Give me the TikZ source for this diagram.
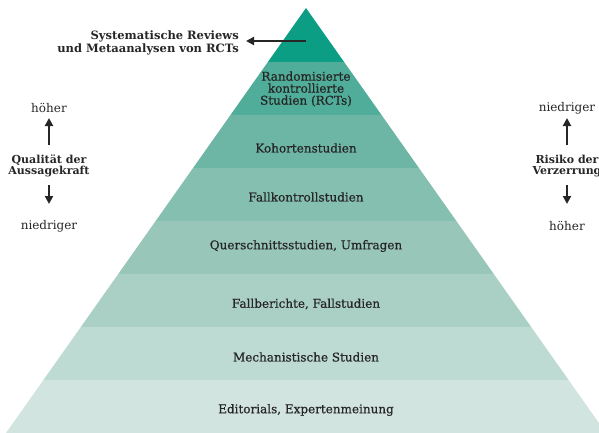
\documentclass[tikz,border=0pt]{standalone}
\usepackage{fontspec}
\setmainfont{DejaVu Serif}
\newfontfamily\medfont[FakeBold=0.6]{DejaVu Serif}
\usetikzlibrary{arrows.meta}
\definecolor{band1}{HTML}{0B9E85}
\definecolor{band2}{HTML}{50AD99}
\definecolor{band3}{HTML}{6DB5A5}
\definecolor{band4}{HTML}{85BFAF}
\definecolor{band5}{HTML}{98C7BA}
\definecolor{band6}{HTML}{AACFC5}
\definecolor{band7}{HTML}{BEDBD3}
\definecolor{band8}{HTML}{D2E4DF}
\definecolor{ink}{HTML}{262626}
\tikzset{
  lvl/.style={font=\fontsize{12}{13.5}\selectfont\medfont, text=ink, align=center, inner sep=0pt},
  side/.style={font=\fontsize{12}{13}\selectfont, text=ink, align=center, inner sep=0pt},
  sidebold/.style={font=\fontsize{11}{11.5}\selectfont\bfseries, text=ink, align=center, inner sep=0pt},
  arr/.style={line width=2pt, draw=ink, -{Triangle[width=8pt,length=8pt]}},
}
\begin{document}
\begin{tikzpicture}[x=1pt,y=-1pt]
\useasboundingbox (0,0) rectangle (599,433);
\begin{scope}
\clip (0,0) rectangle (599,433);
% pyramid bands: apex at (306,8), half width grows by 300/425 per unit of height
\def\k{0.70588}
\foreach \ya/\yb/\c in {8/62/band1, 62/115/band2, 115/168/band3, 168/221/band4,
                        221/274/band5, 274/327/band6, 327/380/band7, 380/433/band8}{
  \fill[\c] ({306-\k*(\ya-8)},\ya) -- ({306+\k*(\ya-8)},\ya)
            -- ({306+\k*(\yb-8)},\yb) -- ({306-\k*(\yb-8)},\yb) -- cycle;
}
\end{scope}
% level labels
\coordinate (tip) at (306,41);
\coordinate (tipend) at (246,41);
\node[sidebold, font=\fontsize{11.5}{13}\selectfont\bfseries, anchor=east, align=right] (sr) at (239,43)
  {Systematische Reviews\\und Metaanalysen von RCTs};
\node[lvl, font=\fontsize{12}{12}\selectfont\medfont] (rct) at (306,89) {Randomisierte\\kontrollierte\\Studien (RCTs)};
\node[lvl] (koh) at (306,148) {Kohortenstudien};
\node[lvl] (fk) at (306,197) {Fallkontrollstudien};
\node[lvl] (qs) at (306,246) {Querschnittsstudien, Umfragen};
\node[lvl] (fb) at (306,304) {Fallberichte, Fallstudien};
\node[lvl] (ms) at (306,357) {Mechanistische Studien};
\node[lvl] (ed) at (306,410) {Editorials, Expertenmeinung};
\draw[arr] (tip) -- (tipend);
% left scale
\node[side] (lhi) at (49,108) {höher};
\node[sidebold] (lq) at (49,166) {Qualität der\\Aussagekraft};
\node[side] (llo) at (49,226) {niedriger};
\coordinate (lqa) at (49,145);
\coordinate (lqb) at (49,185);
\draw[arr] (lqa) -- (lhi.south |- 0,118);
\draw[arr] (lqb) -- (llo.north |- 0,204);
% right scale
\node[side] (rlo) at (567,108) {niedriger};
\node[sidebold] (rr) at (567,166) {Risiko der\\Verzerrung};
\node[side] (rhi) at (567,226) {höher};
\coordinate (rra) at (567,145);
\coordinate (rrb) at (567,185);
\draw[arr] (rra) -- (rlo.south |- 0,118);
\draw[arr] (rrb) -- (rhi.north |- 0,204);
\end{tikzpicture}
\end{document}
